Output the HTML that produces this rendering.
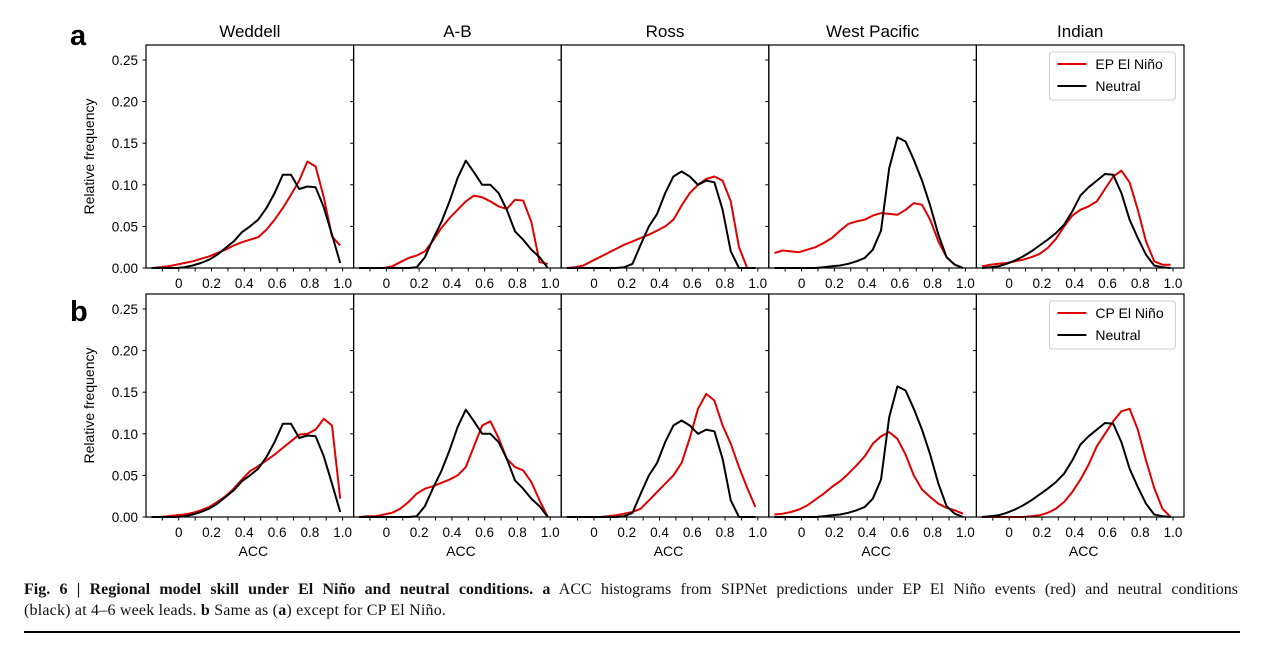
<!DOCTYPE html>
<html><head><meta charset="utf-8"><style>
body{margin:0;background:#fff;width:1261px;height:645px;overflow:hidden}
svg text{font-family:"Liberation Sans","DejaVu Sans",sans-serif}
.cl{white-space:nowrap}
</style></head><body>
<svg id="fig" width="1261" height="645" xmlns="http://www.w3.org/2000/svg"></svg>
<script>
const regions = ["Weddell","A-B","Ross","West Pacific","Indian"];
const acc = [-0.165,-0.115,-0.065,-0.015,0.035,0.085,0.135,0.185,0.235,0.285,0.335,0.385,0.435,0.485,0.535,0.585,0.635,0.685,0.735,0.785,0.835,0.885,0.935,0.985];
const neutralWeddell = [0,0,0,0,0.001,0.003,0.006,0.01,0.016,0.024,0.032,0.043,0.05,0.058,0.072,0.09,0.112,0.112,0.095,0.098,0.097,0.073,0.04,0.006];
const neutralAB = [0,0,0,0,0,0,0,0.001,0.013,0.035,0.055,0.08,0.108,0.129,0.115,0.1,0.1,0.09,0.07,0.044,0.034,0.022,0.013,0];
const neutralRoss = [0,0,0,0,0,0,0,0.001,0.005,0.028,0.05,0.065,0.09,0.11,0.116,0.11,0.1,0.105,0.103,0.07,0.02,0,0,0];
const neutralWP = [0,0,0,0,0,0,0.001,0.002,0.003,0.005,0.008,0.012,0.022,0.045,0.12,0.157,0.152,0.13,0.105,0.075,0.04,0.013,0.004,0];
const neutralIndian = [0,0.001,0.002,0.005,0.009,0.014,0.02,0.027,0.034,0.042,0.052,0.068,0.087,0.097,0.105,0.113,0.112,0.09,0.058,0.036,0.016,0.003,0.001,0];
const epWeddell = [0,0.001,0.002,0.004,0.006,0.008,0.011,0.014,0.018,0.022,0.027,0.031,0.034,0.037,0.046,0.058,0.072,0.088,0.105,0.128,0.122,0.085,0.038,0.027];
const epAB = [0,0,0,0,0.002,0.007,0.012,0.015,0.02,0.033,0.048,0.06,0.07,0.08,0.087,0.085,0.08,0.074,0.071,0.082,0.081,0.055,0.007,0.005];
const epRoss = [0,0.001,0.003,0.008,0.013,0.018,0.023,0.028,0.032,0.036,0.04,0.045,0.05,0.058,0.075,0.09,0.1,0.107,0.11,0.105,0.08,0.025,0,0];
const epWP = [0.018,0.021,0.02,0.019,0.022,0.025,0.03,0.036,0.045,0.053,0.056,0.058,0.063,0.066,0.065,0.064,0.07,0.078,0.076,0.058,0.032,0.013,0.004,0];
const epIndian = [0.002,0.004,0.005,0.006,0.008,0.01,0.013,0.017,0.024,0.035,0.05,0.063,0.07,0.074,0.08,0.095,0.11,0.117,0.103,0.07,0.032,0.008,0.004,0.004];
const cpWeddell = [0,0,0.001,0.002,0.003,0.005,0.008,0.012,0.018,0.025,0.034,0.045,0.055,0.061,0.068,0.075,0.083,0.091,0.099,0.1,0.105,0.118,0.11,0.022];
const cpAB = [0,0.001,0.001,0.003,0.005,0.01,0.018,0.028,0.034,0.037,0.041,0.045,0.05,0.06,0.085,0.11,0.115,0.095,0.07,0.06,0.056,0.042,0.02,0];
const cpRoss = [0,0,0,0,0,0.001,0.002,0.004,0.006,0.01,0.02,0.03,0.04,0.05,0.065,0.095,0.13,0.148,0.14,0.11,0.088,0.06,0.035,0.012];
const cpWP = [0.003,0.004,0.006,0.009,0.014,0.021,0.028,0.036,0.043,0.052,0.062,0.073,0.088,0.097,0.102,0.094,0.075,0.05,0.033,0.024,0.016,0.011,0.008,0.004];
const cpIndian = [0,0,0,0,0,0,0.001,0.002,0.005,0.01,0.018,0.03,0.045,0.063,0.085,0.1,0.115,0.127,0.13,0.105,0.068,0.035,0.01,0];
const yTicks = [0,0.05,0.1,0.15,0.2,0.25];
const yTickLabels = ["0.00","0.05","0.10","0.15","0.20","0.25"];
const xTicks = [0,0.2,0.4,0.6,0.8,1.0];
const xTickLabels = ["0","0.2","0.4","0.6","0.8","1.0"];
const xMinor = [-0.1,0.1,0.3,0.5,0.7,0.9];

const rows = [
 {top:45,bottom:268,letter:"a",letterY:45,legend:"EP El Niño",red:[epWeddell,epAB,epRoss,epWP,epIndian]},
 {top:294,bottom:517,letter:"b",letterY:321,legend:"CP El Niño",red:[cpWeddell,cpAB,cpRoss,cpWP,cpIndian]}
];
const neutral = [neutralWeddell,neutralAB,neutralRoss,neutralWP,neutralIndian];
const svg = document.getElementById('fig');
const NS = "http://www.w3.org/2000/svg";
function mk(tag, attrs, parent, txt){
  const e = document.createElementNS(NS, tag);
  for (const k in attrs) e.setAttribute(k, attrs[k]);
  if (txt !== undefined) e.textContent = txt;
  (parent||svg).appendChild(e); return e;
}
const PW = 207.6, L0 = 146;
rows.forEach((row, r) => {
  const yS = v => row.bottom - v/0.25*(row.bottom-row.top-15);
  const g = mk('g', {});
  
  
  const lt = mk('text', {x:70, y:row.letterY, 'font-size':29, 'font-weight':'bold'}, g, row.letter);
  
  
  const yl = mk('text', {x:0, y:0, 'font-size':14, 'text-anchor':'middle', transform:`translate(94,${(row.top+row.bottom)/2}) rotate(-90)`}, g, 'Relative frequency');
  
  
  regions.forEach((reg, k) => {
    const left = L0 + k*PW;
    const xS = v => left + (v+0.2)/1.267*PW;
    const pg = mk('g', {}, g);
    
    
    if (r === 0) {
      const t = mk('text', {x:left+PW/2, y:37, 'font-size':17, 'text-anchor':'middle'}, pg, reg);
      
      
    }
    yTicks.forEach((v, i) => {
      mk('line', {x1:left-3.5, x2:left, y1:yS(v), y2:yS(v), stroke:'#000', 'stroke-width':1}, pg);
      if (k === 0) {
        const t = mk('text', {x:left-8, y:yS(v)+5, 'font-size':13.5, 'text-anchor':'end'}, pg, yTickLabels[i]);
        
        
      }
    });
    xTicks.forEach((v, i) => {
      mk('line', {x1:xS(v), x2:xS(v), y1:row.bottom, y2:row.bottom+3.5, stroke:'#000', 'stroke-width':1}, pg);
      const t = mk('text', {x:xS(v), y:row.bottom+20, 'font-size':13.5, 'text-anchor':'middle'}, pg, xTickLabels[i]);
      
      
    });
    xMinor.forEach(v => mk('line', {x1:xS(v), x2:xS(v), y1:row.bottom, y2:row.bottom+3.5, stroke:'#000', 'stroke-width':1}, pg));
    if (r === 1) {
      const t = mk('text', {x:xS(0.4)+9, y:row.bottom+39, 'font-size':14, 'text-anchor':'middle'}, pg, 'ACC');
      
      
    }
    const path = arr => arr.map((v,i)=>(i?'L':'M')+xS(acc[i]).toFixed(1)+','+yS(v).toFixed(1)).join('');
    const rl = mk('path', {d:path(row.red[k]), fill:'none', stroke:'#e00000', 'stroke-width':2, 'stroke-linejoin':'round'}, pg);
    
    
    const bl = mk('path', {d:path(neutral[k]), fill:'none', stroke:'#000', 'stroke-width':2, 'stroke-linejoin':'round'}, pg);
    
    
    const fr = mk('rect', {x:left, y:row.top, width:PW, height:row.bottom-row.top, fill:'none', stroke:'#000', 'stroke-width':1.2}, pg);
    
    
  });
  const lx = L0 + 4*PW;
  const lg = mk('g', {}, g);
  
  
  mk('rect', {x:lx+73, y:row.top+7, width:126, height:48, rx:3, fill:'#fff', stroke:'#ccc', 'stroke-width':1}, lg);
  mk('line', {x1:lx+81, x2:lx+110, y1:row.top+19, y2:row.top+19, stroke:'#e00000', 'stroke-width':2}, lg);
  mk('line', {x1:lx+81, x2:lx+110, y1:row.top+41, y2:row.top+41, stroke:'#000', 'stroke-width':2}, lg);
  const e1 = mk('text', {x:lx+119, y:row.top+24, 'font-size':14}, lg, row.legend);
  
  
  const e2 = mk('text', {x:lx+119, y:row.top+46, 'font-size':14}, lg, 'Neutral');
  
  
});
</script>
<div style="position:absolute;left:24px;top:579px;width:1214px;font-family:'Liberation Serif',serif;font-size:16px;line-height:21px;color:#111">
<div class="cl" style="text-align:justify;text-align-last:justify;width:1214px"><b>Fig. 6 | Regional model skill under El Niño and neutral conditions.</b> <b>a</b> ACC histograms from SIPNet predictions under EP El Niño events (red) and neutral conditions</div>
<div class="cl" style="letter-spacing:0.2px">(black) at 4–6 week leads. <b>b</b> Same as (<b>a</b>) except for CP El Niño.</div>
</div>
<div style="position:absolute;left:24px;top:631px;width:1216px;height:2px;background:#000"></div>
</body></html>
